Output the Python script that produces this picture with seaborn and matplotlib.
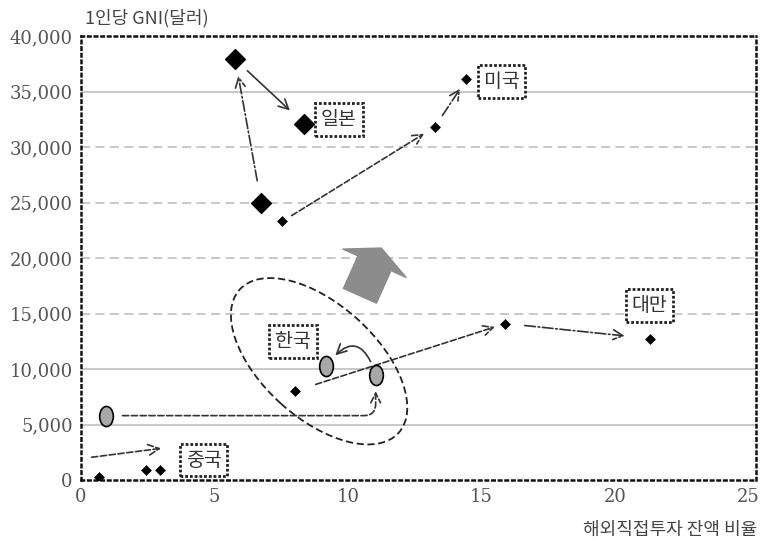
import numpy as np
import pandas as pd
import matplotlib
matplotlib.use("Agg")
import matplotlib.pyplot as plt
import matplotlib.transforms as mtransforms
from matplotlib.patches import Ellipse
from matplotlib.path import Path
import seaborn as sns

# values (chronological order within each country)
japan_x = [6.75, 5.78, 8.36]
japan_y = [25000, 37900, 32100]
us_x = [7.54, 13.25, 14.44]
us_y = [23300, 31800, 36100]
taiwan_x = [8.0, 15.9, 21.3]
taiwan_y = [8000, 14100, 12750]
korea_x = [0.93, 11.04, 9.18]
korea_y = [5800, 9500, 10300]
china_x = [0.67, 2.43, 2.95]
china_y = [300, 900, 900]

x_ticks = [0, 5, 10, 15, 20, 25]
y_ticks = [0, 5000, 10000, 15000, 20000, 25000, 30000, 35000, 40000]
grid_solid = [5000, 10000, 35000]
grid_dashed = [15000, 20000, 25000, 30000]

sns.set_style("white")
plt.rcParams['font.family'] = ['Noto Sans CJK KR', 'DejaVu Sans']

fig = plt.figure(figsize=(7.64, 5.47), dpi=100)
ax = fig.add_axes([0.106, 0.1225, 0.884, 0.8115])
ax.set_xlim(0, 25.3)
ax.set_ylim(0, 40000)

for g in grid_solid:
    ax.axhline(g, color="#c4c4c4", lw=1.3, zorder=0)
for g in grid_dashed:
    ax.axhline(g, color="#c4c4c4", lw=1.3, ls=(0, (5, 3)), zorder=0)

df_japan = pd.DataFrame({"x": japan_x, "y": japan_y})
df_us = pd.DataFrame({"x": us_x, "y": us_y})
df_taiwan = pd.DataFrame({"x": taiwan_x, "y": taiwan_y})
df_korea = pd.DataFrame({"x": korea_x, "y": korea_y})
df_china = pd.DataFrame({"x": china_x, "y": china_y})

oval = mtransforms.Affine2D().scale(0.68, 1.0).transform_path(Path.unit_circle())

sns.scatterplot(data=df_japan, x="x", y="y", marker="D", s=105, color="black",
                edgecolor="black", ax=ax, zorder=5)
for d in (df_us, df_taiwan, df_china):
    sns.scatterplot(data=d, x="x", y="y", marker="D", s=26, color="black",
                    edgecolor="black", ax=ax, zorder=5)
sns.scatterplot(data=df_korea, x="x", y="y", marker=oval, s=210, color="#a8a8a8",
                edgecolor="black", linewidth=1.2, ax=ax, zorder=5)


def arrow(p0, p1, ls="--", conn="arc3", sa=8, sb=8):
    ax.annotate("", xy=p1, xytext=p0,
                arrowprops=dict(arrowstyle="->,head_length=0.7,head_width=0.35",
                                color="#333333", lw=1.2, linestyle=ls,
                                connectionstyle=conn, shrinkA=sa, shrinkB=sb),
                zorder=4)


# Japan
arrow((japan_x[0], japan_y[0]), (japan_x[1], japan_y[1]), ls="-.", sa=16, sb=12)
arrow((japan_x[1], japan_y[1]), (japan_x[2], japan_y[2]), ls="-", sa=12, sb=14)
# US
arrow((us_x[0], us_y[0]), (us_x[1], us_y[1]), ls="--", sa=8, sb=9)
arrow((us_x[1], us_y[1]), (us_x[2], us_y[2]), ls="-.", sa=10, sb=8)
# Taiwan
arrow((taiwan_x[0], taiwan_y[0]), (taiwan_x[1], taiwan_y[1]), ls="--", sa=16, sb=8)
arrow((taiwan_x[1], taiwan_y[1]), (taiwan_x[2], taiwan_y[2]), ls="-.", sa=14, sb=18)
# Korea
arrow((korea_x[0], korea_y[0]), (korea_x[1], korea_y[1]), ls="--",
      conn="angle,angleA=0,angleB=90,rad=12", sa=12, sb=12)
arrow((korea_x[1], korea_y[1]), (korea_x[2], korea_y[2]), ls="-",
      conn="arc3,rad=0.95", sa=10, sb=10)
# China (indicator arrow above the points)
ax.annotate("", xy=(3.0, 2850), xytext=(0.4, 2050),
            arrowprops=dict(arrowstyle="->,head_length=0.8,head_width=0.4",
                            color="#333333", lw=1.2, linestyle="--",
                            shrinkA=0, shrinkB=0))

# big gray direction arrow
ax.annotate("", xy=(11.25, 20900), xytext=(10.45, 16600),
            arrowprops=dict(arrowstyle="simple,head_length=0.6,head_width=2.5,tail_width=1.3",
                            color="#8c8c8c", shrinkA=0, shrinkB=0,
                            mutation_scale=20), zorder=3)

# dashed ellipse round Korea
etrans = fig.dpi_scale_trans + mtransforms.ScaledTranslation(8.92, 10700, ax.transData)
ax.add_patch(Ellipse((0, 0), width=2.14, height=1.14, angle=-42, fill=False,
                     ls=(0, (4, 2)), lw=1.3, edgecolor="#222222", transform=etrans,
                     zorder=3))

# country labels
labels = ["일본", "미국", "대만", "한국", "중국"]
label_x = [9.66, 15.75, 21.3, 7.95, 4.59]
label_y = [32500, 35900, 15700, 12480, 1800]
for t, lx, ly in zip(labels, label_x, label_y):
    ax.text(lx, ly, t, ha="center", va="center", fontsize=14, color="#333333",
            bbox=dict(boxstyle="square,pad=0.3", facecolor="white",
                      edgecolor="#222222", lw=2.0, ls=(0, (1, 0.7))), zorder=6)

ax.set_xticks(x_ticks)
ax.set_yticks(y_ticks)
ax.set_yticklabels([f"{v:,}" for v in y_ticks])
ax.tick_params(direction="in", length=3, labelsize=13, labelcolor="#555555", pad=6)
for lab in ax.get_xticklabels() + ax.get_yticklabels():
    lab.set_family("DejaVu Serif")
ax.set_xlabel("")
ax.set_ylabel("")

for sp in ax.spines.values():
    sp.set_linestyle(":")
    sp.set_linewidth(1.8)
    sp.set_color("#111111")
    sp.set_visible(True)

fig.text(85 / 764, 1 - 18 / 547, "1인당 GNI(달러)", ha="left", va="center",
         fontsize=13, color="#444444")
fig.text(757 / 764, 1 - 530 / 547, "해외직접투자 잔액 비율", ha="right", va="center",
         fontsize=13, color="#444444")

fig.savefig("out.png", dpi=100)
